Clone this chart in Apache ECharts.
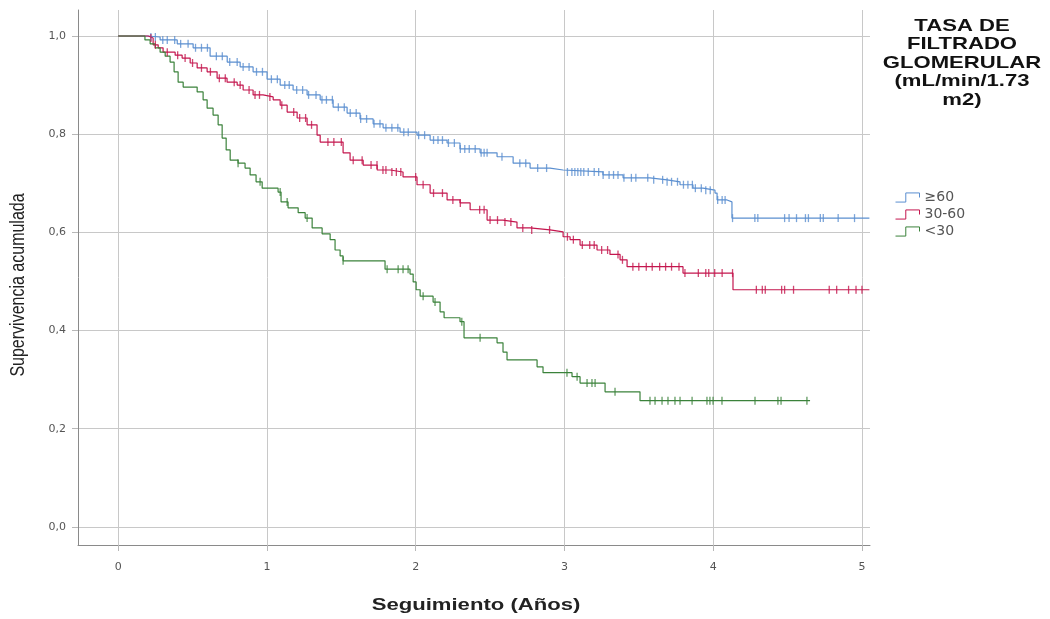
<!DOCTYPE html>
<html>
<head>
<meta charset="utf-8">
<script src="https://cdn.jsdelivr.net/npm/echarts@6/dist/echarts.min.js"></script>
<style>
  html, body { margin: 0; padding: 0; background: #fff; }
  #chart { width: 1050px; height: 619px; }
</style>
</head>
<body>
<div id="chart"></div>
<script>
// curvas de Kaplan-Meier por grupo de filtrado glomerular
var groupNames = ['≥60', '30-60', '<30'];
var xTicks = [0, 1, 2, 3, 4, 5];
var yTicks = [0, 0.2, 0.4, 0.6, 0.8, 1.0];

// [tiempo (años), supervivencia] - la supervivencia vale desde ese tiempo
var stepsHigh = [
  [0, 1.0], [0.195, 0.998], [0.282, 0.992], [0.397, 0.984], [0.504, 0.976], [0.618, 0.959],
  [0.733, 0.947], [0.820, 0.937], [0.907, 0.927], [1.001, 0.912], [1.089, 0.900], [1.176, 0.890],
  [1.270, 0.880], [1.358, 0.870], [1.445, 0.855], [1.539, 0.843], [1.626, 0.831], [1.714, 0.821],
  [1.781, 0.813], [1.895, 0.804], [2.009, 0.798], [2.097, 0.788], [2.211, 0.782], [2.298, 0.770],
  [2.433, 0.762], [2.547, 0.754], [2.655, 0.741], [2.769, 0.731], [2.903, 0.727], [2.991, 0.723],
  [3.259, 0.717], [3.394, 0.711], [3.575, 0.707], [3.690, 0.703], [3.777, 0.697], [3.864, 0.690],
  [3.931, 0.686], [4.012, 0.680], [4.026, 0.666], [4.093, 0.662], [4.126, 0.629], [5.05, 0.629]
];
var stepsMid = [
  [0, 1.0], [0.202, 0.996], [0.235, 0.982], [0.269, 0.976], [0.302, 0.967], [0.383, 0.961],
  [0.430, 0.955], [0.484, 0.945], [0.531, 0.935], [0.598, 0.927], [0.665, 0.914], [0.732, 0.906],
  [0.800, 0.900], [0.840, 0.890], [0.907, 0.880], [0.974, 0.876], [1.042, 0.870], [1.089, 0.859],
  [1.136, 0.845], [1.203, 0.833], [1.270, 0.819], [1.337, 0.798], [1.358, 0.784], [1.512, 0.762],
  [1.559, 0.747], [1.647, 0.737], [1.741, 0.727], [1.828, 0.723], [1.915, 0.713], [2.009, 0.697],
  [2.097, 0.680], [2.211, 0.666], [2.298, 0.660], [2.366, 0.646], [2.480, 0.625], [2.587, 0.621],
  [2.681, 0.609], [2.769, 0.605], [2.903, 0.601], [2.991, 0.591], [3.038, 0.585], [3.105, 0.574],
  [3.219, 0.564], [3.306, 0.555], [3.374, 0.544], [3.421, 0.530], [3.797, 0.517], [4.133, 0.483],
  [5.05, 0.483]
];
var stepsLow = [
  [0, 1.0], [0.18, 0.992], [0.215, 0.984], [0.249, 0.976], [0.282, 0.967], [0.316, 0.959],
  [0.349, 0.947], [0.376, 0.927], [0.403, 0.906], [0.437, 0.896], [0.531, 0.886], [0.571, 0.870],
  [0.598, 0.853], [0.638, 0.839], [0.672, 0.819], [0.699, 0.792], [0.726, 0.768], [0.753, 0.747],
  [0.806, 0.741], [0.853, 0.731], [0.887, 0.717], [0.927, 0.703], [0.968, 0.690], [1.075, 0.682],
  [1.095, 0.662], [1.142, 0.650], [1.210, 0.640], [1.257, 0.629], [1.304, 0.609], [1.371, 0.597],
  [1.425, 0.585], [1.458, 0.564], [1.492, 0.552], [1.512, 0.542], [1.794, 0.525], [1.962, 0.515],
  [1.983, 0.499], [2.003, 0.483], [2.030, 0.470], [2.117, 0.458], [2.164, 0.438], [2.191, 0.426],
  [2.298, 0.418], [2.325, 0.385], [2.547, 0.375], [2.587, 0.356], [2.614, 0.340], [2.816, 0.326],
  [2.856, 0.314], [3.051, 0.306], [3.105, 0.293], [3.273, 0.275], [3.508, 0.257], [4.651, 0.257]
];

// tiempos de los casos censurados
var censorHigh = [
  0.22, 0.25, 0.30, 0.33, 0.38, 0.42, 0.47, 0.52, 0.56, 0.60, 0.66, 0.70, 0.75, 0.80, 0.84, 0.88,
  0.93, 0.97, 1.03, 1.07, 1.12, 1.15, 1.20, 1.24, 1.28, 1.33, 1.37, 1.40, 1.44, 1.48, 1.52, 1.56,
  1.60, 1.63, 1.67, 1.72, 1.76, 1.80, 1.84, 1.88, 1.92, 1.95, 2.02, 2.06, 2.12, 2.15, 2.18, 2.22,
  2.26, 2.30, 2.33, 2.36, 2.40, 2.44, 2.46, 2.48, 2.58, 2.70, 2.74, 2.82, 2.88, 3.02, 3.05, 3.07,
  3.09, 3.11, 3.13, 3.16, 3.20, 3.23, 3.26, 3.30, 3.33, 3.36, 3.40, 3.45, 3.48, 3.56, 3.60, 3.66,
  3.69, 3.72, 3.76, 3.80, 3.83, 3.86, 3.88, 3.92, 3.95, 3.98, 4.03, 4.06, 4.08, 4.13, 4.28, 4.30,
  4.48, 4.51, 4.56, 4.62, 4.64, 4.72, 4.74, 4.84, 4.95
];
var censorMid = [
  0.22, 0.25, 0.33, 0.40, 0.45, 0.50, 0.56, 0.62, 0.68, 0.72, 0.78, 0.82, 0.88, 0.92, 0.95, 1.02,
  1.10, 1.18, 1.22, 1.26, 1.30, 1.41, 1.45, 1.50, 1.58, 1.64, 1.70, 1.74, 1.78, 1.80, 1.84, 1.87,
  1.90, 2.00, 2.05, 2.12, 2.18, 2.25, 2.30, 2.43, 2.46, 2.50, 2.55, 2.60, 2.64, 2.72, 2.78, 2.90,
  3.02, 3.06, 3.12, 3.17, 3.20, 3.25, 3.29, 3.36, 3.39, 3.46, 3.50, 3.55, 3.59, 3.64, 3.68, 3.72,
  3.77, 3.81, 3.90, 3.95, 3.97, 4.01, 4.06, 4.13, 4.29, 4.33, 4.35, 4.46, 4.48, 4.54, 4.78, 4.83,
  4.91, 4.96, 5.00
];
var censorLow = [
  0.806, 0.954, 1.089, 1.136, 1.270, 1.512, 1.808, 1.882, 1.915, 1.949, 2.050, 2.130, 2.31, 2.433,
  3.017, 3.085, 3.152, 3.185, 3.206, 3.340, 3.575, 3.609, 3.656, 3.696, 3.743, 3.777, 3.858, 3.958,
  3.978, 3.999, 4.059, 4.281, 4.435, 4.456, 4.630
];

var colors = ['#5b8fd0', '#c4164e', '#3b823b'];
var allSteps = [stepsHigh, stepsMid, stepsLow];
var allCensor = [censorHigh, censorMid, censorLow];

function survivalAt(steps, t) {
  var s = steps[0][1];
  steps.forEach(function (p) {
    if (p[0] <= t) s = p[1];
  });
  return s;
}

var series = [];
groupNames.forEach(function (name, i) {
  series.push({
    name: name,
    type: 'line',
    step: 'end',
    showSymbol: false,
    data: allSteps[i],
    lineStyle: { color: colors[i], width: 1.2 },
    itemStyle: { color: colors[i] },
    z: 3
  });
  series.push({
    name: name + ' censurado',
    type: 'scatter',
    symbol: 'rect',
    symbolSize: [1.3, 8],
    data: allCensor[i].map(function (t) {
      return [t, survivalAt(allSteps[i], t)];
    }),
    itemStyle: { color: colors[i] },
    z: 4
  });
});

var legendIcon = 'path://M0,9 L9,9 L9,1 L21,1 L21,5';

var myChart = echarts.init(document.getElementById('chart'));
var option = {
  animation: false,
  backgroundColor: '#fff',
  grid: { left: 78, right: 180, top: 10, bottom: 74 },
  xAxis: {
    type: 'value',
    min: -0.27,
    max: 5.054,
    axisLine: { onZero: false, lineStyle: { color: '#8a8a8a' } },
    axisTick: { show: true, length: 6, customValues: xTicks, lineStyle: { color: '#b8b8b8' } },
    axisLabel: {
      customValues: xTicks,
      margin: 17,
      color: '#555',
      fontSize: 11,
      fontFamily: 'DejaVu Sans'
    },
    splitLine: { show: true, lineStyle: { color: '#c8c8c8' } }
  },
  yAxis: {
    type: 'value',
    min: -0.037,
    max: 1.053,
    axisLine: { show: true, onZero: false, lineStyle: { color: '#8a8a8a' } },
    axisTick: { show: true, length: 6, customValues: yTicks, lineStyle: { color: '#b8b8b8' } },
    axisLabel: {
      customValues: yTicks,
      margin: 12,
      color: '#555',
      fontSize: 11,
      fontFamily: 'DejaVu Sans',
      formatter: function (v) { return v.toFixed(1).replace('.', ','); }
    },
    splitLine: { show: true, lineStyle: { color: '#c8c8c8' } }
  },
  legend: {
    orient: 'vertical',
    left: 890,
    top: 185,
    itemWidth: 24,
    itemHeight: 10,
    itemGap: 2,
    textStyle: { fontSize: 14, fontFamily: 'DejaVu Sans', color: '#555', lineHeight: 15 },
    data: groupNames.map(function (name, i) {
      return {
        name: name,
        icon: legendIcon,
        itemStyle: { color: 'rgba(0,0,0,0)', borderColor: colors[i], borderWidth: 1 }
      };
    })
  },
  graphic: [
    {
      type: 'text',
      x: 962,
      y: 17,
      scaleX: 1.3,
      style: {
        text: 'TASA DE\nFILTRADO\nGLOMERULAR\n(mL/min/1.73\nm2)',
        font: 'bold 17px "Liberation Sans"',
        fill: '#111',
        align: 'center',
        verticalAlign: 'top',
        textAlign: 'center',
        textVerticalAlign: 'top',
        lineHeight: 18.5
      }
    },
    {
      type: 'text',
      x: 476,
      y: 605,
      scaleX: 1.3,
      style: {
        text: 'Seguimiento (Años)',
        font: 'bold 17px "Liberation Sans"',
        fill: '#222',
        align: 'center',
        verticalAlign: 'middle',
        textAlign: 'center',
        textVerticalAlign: 'middle'
      }
    },
    {
      type: 'text',
      x: 18,
      y: 285,
      rotation: Math.PI / 2,
      scaleY: 1.3,
      style: {
        text: 'Supervivencia acumulada',
        font: '16px "Liberation Sans"',
        fill: '#222',
        align: 'center',
        verticalAlign: 'middle',
        textAlign: 'center',
        textVerticalAlign: 'middle'
      }
    }
  ],
  series: series
};
myChart.setOption(option);
</script>
</body>
</html>
